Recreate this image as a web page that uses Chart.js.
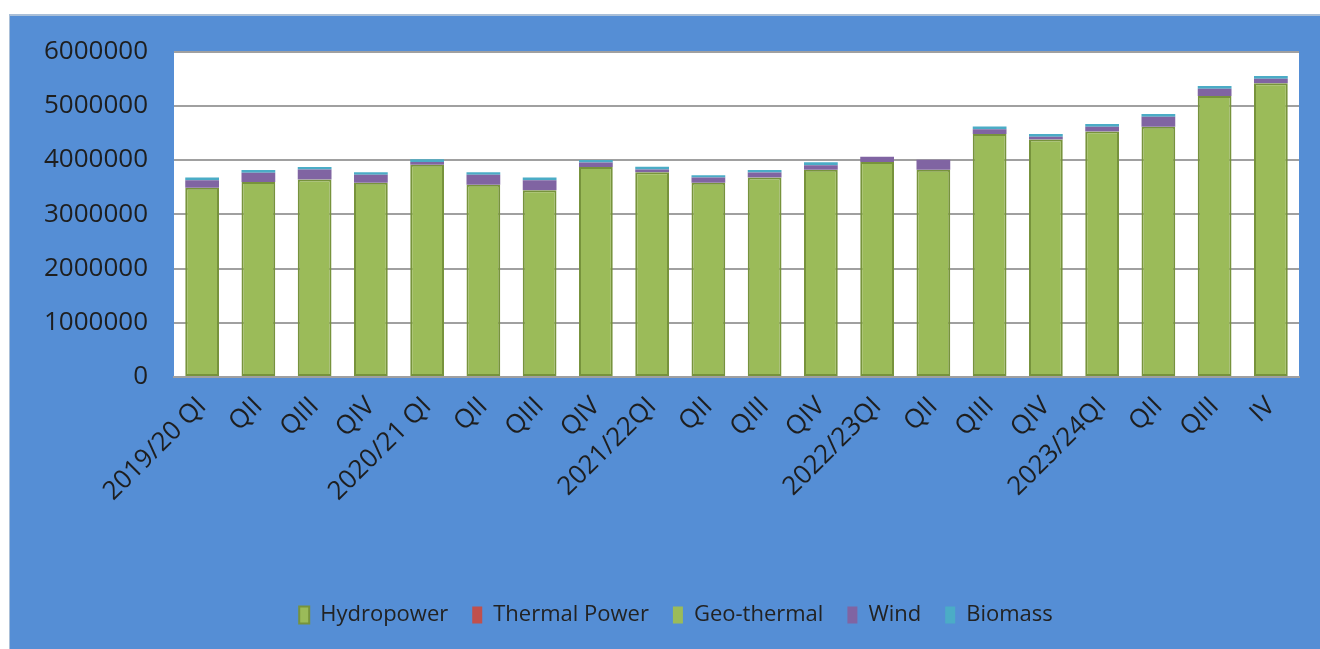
<!DOCTYPE html>
<html>
<head>
<meta charset="utf-8">
<script src="https://cdn.jsdelivr.net/npm/chart.js@4"></script>
<style>
  html, body { margin: 0; padding: 0; background: #ffffff; }
  body { width: 1320px; height: 649px; overflow: hidden; position: relative; }
  #panel {
    position: absolute; left: 9px; top: 14px; width: 1311px; height: 635px;
    background: #558ed5; border-left: 1px solid #a9bfd8; border-top: 2px solid #a9bfd8;
    box-sizing: border-box;
  }
  #chart { position: absolute; left: 10px; top: 10px; }
</style>
</head>
<body>
<div id="panel"></div>
<canvas id="chart" width="1310" height="639"></canvas>
<script>
// ---------- DATOS ----------
const quarters = ['2019/20 QI', 'QII', 'QIII', 'QIV', '2020/21 QI', 'QII', 'QIII', 'QIV',
    '2021/22QI', 'QII', 'QIII', 'QIV', '2022/23QI', 'QII', 'QIII', 'QIV',
    '2023/24QI', 'QII', 'QIII', 'IV'];
const hydropower = [3490000, 3595000, 3640000, 3580000, 3915000, 3545000, 3445000, 3870000,
    3775000, 3580000, 3680000, 3820000, 3965000, 3820000, 4480000, 4380000,
    4525000, 4615000, 5180000, 5415000];
const thermalPower = [0, 0, 0, 0, 0, 0, 0, 0, 0, 0, 0, 0, 0, 0, 0, 0, 0, 0, 0, 0];
const geoThermal = [0, 0, 0, 0, 0, 0, 0, 0, 0, 0, 0, 0, 0, 0, 0, 0, 0, 0, 0, 0];
const wind = [140000, 170000, 185000, 150000, 50000, 185000, 185000, 85000,
    50000, 100000, 90000, 85000, 95000, 185000, 90000, 50000,
    90000, 185000, 135000, 85000];
const biomass = [50000, 50000, 45000, 45000, 50000, 45000, 50000, 45000,
    50000, 40000, 45000, 55000, 0, 0, 50000, 50000,
    50000, 50000, 50000, 50000];
const yTicks = [0, 1000000, 2000000, 3000000, 4000000, 5000000, 6000000];

// fondo blanco del área de trazado
const plotBg = {
    id: 'plotBg',
    beforeDraw(chart) {
        const a = chart.chartArea;
        chart.ctx.save();
        chart.ctx.fillStyle = '#ffffff';
        chart.ctx.fillRect(a.left, a.top, a.right - a.left, a.bottom - a.top);
        chart.ctx.restore();
    }
};

// correr la leyenda un poco a la derecha
const legendShift = {
    id: 'legendShift',
    afterLayout(chart) {
        chart.legend.left += 21.5;
        chart.legend.right += 21.5;
    }
};

const FONT = "'Open Sans', 'Noto Sans', sans-serif";

// ---------- INICIALIZAR GRÁFICA ----------
const ctx = document.getElementById('chart');
const chart = new Chart(ctx, {
    type: 'bar',
    data: {
        labels: quarters,
        datasets: [
            { label: 'Hydropower', data: hydropower, backgroundColor: '#9bbb59', borderColor: '#77933c', borderWidth: 2, borderSkipped: false },
            { label: 'Thermal Power', data: thermalPower, backgroundColor: '#c0504d', borderWidth: 0 },
            { label: 'Geo-thermal', data: geoThermal, backgroundColor: '#9bbb59', borderWidth: 0 },
            { label: 'Wind', data: wind, backgroundColor: '#8064a2', borderWidth: 0 },
            { label: 'Biomass', data: biomass, backgroundColor: '#4bacc6', borderWidth: 0 }
        ]
    },
    options: {
        responsive: false,
        animation: false,
        barPercentage: 0.6,
        categoryPercentage: 1.0,
        // el tope del área lo fija el padding de las etiquetas del eje y (41.6)
        layout: { padding: { top: 30, right: 21, left: 0, bottom: 13 } },
        plugins: {
            tooltip: { enabled: false },
            legend: {
                position: 'bottom',
                labels: {
                    boxWidth: 10,
                    boxHeight: 17,
                    padding: 24,
                    color: '#222222',
                    font: { family: FONT, size: 22 }
                }
            }
        },
        scales: {
            x: {
                stacked: true,
                grid: { display: false, drawTicks: false },
                border: { display: true, color: '#a0a0a0', width: 2 },
                ticks: {
                    color: '#1e1e1e',
                    font: { family: FONT, size: 26 },
                    minRotation: 45,
                    maxRotation: 45,
                    autoSkip: false,
                    padding: 14
                },
                afterFit(scale) { scale.height = 203; }
            },
            y: {
                stacked: true,
                min: 0,
                max: 6000000,
                afterBuildTicks(scale) { scale.ticks = yTicks.map(v => ({ value: v })); },
                grid: { color: '#a0a0a0', lineWidth: 2, drawTicks: false },
                border: { display: false },
                ticks: {
                    color: '#1e1e1e',
                    font: { family: FONT, size: 26 },
                    padding: 26,
                    callback: v => String(v)
                },
                afterFit(scale) { scale.width = 164; }
            }
        }
    },
    plugins: [plotBg, legendShift]
});
</script>
</body>
</html>
